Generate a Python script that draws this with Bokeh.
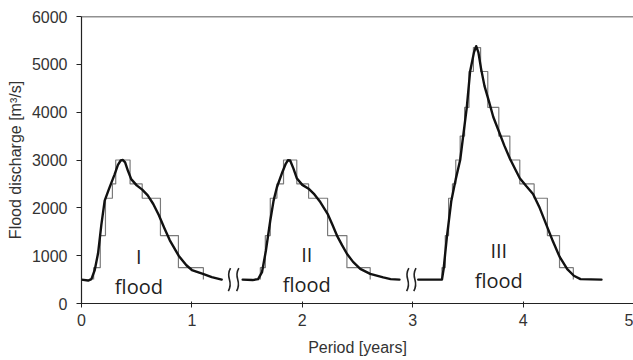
from bokeh.plotting import figure
from bokeh.models import Range1d, Span, FixedTicker, ColumnDataSource
from bokeh.core.properties import value
from bokeh.embed import file_html
from bokeh.resources import INLINE

# ---- data ----
# smooth flood hydrographs (years, m3/s)
c1_x = [0.0, 0.06, 0.09, 0.12, 0.15, 0.18, 0.21, 0.25, 0.30, 0.33, 0.355, 0.375, 0.395, 0.42,
        0.45, 0.50, 0.55, 0.60, 0.65, 0.70, 0.75, 0.80, 0.88, 0.95, 1.0, 1.1, 1.18, 1.27]
c1_y = [500, 480, 510, 700, 1050, 1650, 2150, 2400, 2700, 2900, 2990, 3000, 2950, 2780,
        2600, 2470, 2380, 2260, 2080, 1850, 1580, 1320, 1000, 800, 700, 620, 550, 500]

c2_x = [1.46, 1.55, 1.60, 1.635, 1.67, 1.71, 1.74, 1.77, 1.82, 1.85, 1.87, 1.89, 1.92, 1.95,
        2.0, 2.057, 2.11, 2.163, 2.229, 2.27, 2.314, 2.36, 2.404, 2.46, 2.525, 2.615, 2.733,
        2.80, 2.88]
c2_y = [500, 490, 510, 655, 1100, 1735, 2150, 2430, 2750, 2920, 2995, 2990, 2820, 2620,
        2480, 2400, 2280, 2120, 1875, 1660, 1420, 1220, 1040, 870, 725, 620, 545,
        510, 500]

c3_x = [3.05, 3.265, 3.28, 3.31, 3.35, 3.39, 3.43, 3.46, 3.49, 3.52, 3.555, 3.575, 3.595,
        3.62, 3.65, 3.69, 3.73, 3.78, 3.83, 3.88, 3.93, 3.97, 4.03, 4.09, 4.15, 4.21, 4.27,
        4.33, 4.40, 4.46, 4.52, 4.71]
c3_y = [500, 500, 720, 1400, 2150, 2600, 3000, 3550, 4100, 4850, 5250, 5380, 5250,
        4900, 4550, 4230, 3900, 3600, 3300, 3030, 2800, 2620, 2450, 2290, 2000, 1650, 1300,
        980, 720, 580, 510, 500]

# stepped (discretised) flows: edges and step values
s1_edges = [0.11, 0.17, 0.217, 0.28, 0.31, 0.44, 0.55, 0.715, 0.878, 1.104]
s1_vals = [750, 1420, 2200, 2500, 3000, 2500, 2200, 1420, 750]

s2_edges = [1.62, 1.665, 1.71, 1.77, 1.83, 1.95, 2.057, 2.229, 2.404, 2.615]
s2_vals = [750, 1420, 2200, 2500, 3000, 2500, 2200, 1420, 750]

s3_edges = [3.265, 3.295, 3.325, 3.36, 3.39, 3.43, 3.47, 3.51, 3.55, 3.615, 3.68, 3.78,
            3.88, 3.97, 4.10, 4.22, 4.33, 4.455]
s3_vals = [750, 1420, 2200, 2500, 3000, 3500, 4100, 4850, 5350, 4850, 4100, 3500, 3000,
           2500, 2200, 1420, 750]
base_flow = 500

# axis break markers (years) and labels
break_x = [1.34, 1.415, 2.955, 3.02]
labels_num = ["I", "II", "III"]
labels_x = [0.52, 2.04, 3.78]
labels_num_y = [980, 1020, 1100]
labels_word_y = [360, 400, 480]

x_ticks = [0, 1, 2, 3, 4, 5]
y_ticks = [0, 1000, 2000, 3000, 4000, 5000, 6000]

# ---- figure ----
p = figure(width=633, height=358, output_backend="svg", toolbar_location=None,
           x_range=Range1d(0, 5), y_range=Range1d(0, 6000),
           min_border_left=81, min_border_right=0, min_border_top=16, min_border_bottom=55)
p.outline_line_color = None
p.grid.visible = False
p.background_fill_color = "white"

FONT = "Liberation Sans"
for ax in (p.xaxis[0], p.yaxis[0]):
    ax.axis_line_color = "#222222"
    ax.axis_line_width = 1.2
    ax.major_tick_line_color = "#222222"
    ax.minor_tick_line_color = None
    ax.major_label_text_font = FONT
    ax.major_label_text_font_size = "16px"
    ax.major_label_text_color = "#333333"
    ax.axis_label_text_font = FONT
    ax.axis_label_text_font_size = "16px"
    ax.axis_label_text_font_style = "normal"
    ax.axis_label_text_color = "#333333"

p.xaxis.ticker = FixedTicker(ticks=x_ticks)
p.yaxis.ticker = FixedTicker(ticks=y_ticks)
p.xaxis.axis_label = "Period [years]"
p.yaxis.axis_label = "Flood discharge [m³/s]"
p.xaxis.major_tick_in = 2
p.xaxis.major_tick_out = 4
p.yaxis.major_tick_in = 0
p.yaxis.major_tick_out = 5
p.xaxis.major_label_standoff = 6
p.yaxis.major_label_standoff = 9
p.xaxis.axis_label_standoff = 10
p.yaxis.axis_label_standoff = 5

p.add_layout(Span(location=6000, dimension="width", line_color="#222222", line_width=1.5))

# stepped series (gray)
for edges, vals in ((s1_edges, s1_vals), (s2_edges, s2_vals), (s3_edges, s3_vals)):
    xs = [edges[0]] + edges
    ys = [base_flow] + vals + [base_flow]
    p.step(x=xs, y=ys, mode="after", line_color="#7a7a7a", line_width=1.2)

# smooth hydrographs (black)
for cx, cy in ((c1_x, c1_y), (c2_x, c2_y), (c3_x, c3_y)):
    p.line(cx, cy, line_color="#111111", line_width=2.4, line_join="round", line_cap="round")

# break markers: small S-shaped squiggles
dx = 0.02
dy = 240
for bx in break_x:
    p.bezier(x0=[bx + dx * 0.5], y0=[base_flow + dy], x1=[bx - dx * 0.5], y1=[base_flow - dy],
             cx0=[bx - dx * 2.2], cy0=[base_flow + dy * 0.1],
             cx1=[bx + dx * 2.2], cy1=[base_flow - dy * 0.1],
             line_color="#222222", line_width=1.6)

# flood labels
src = ColumnDataSource(dict(x=labels_x, yn=labels_num_y, yw=labels_word_y,
                            n=labels_num, w=["flood"] * 3))
p.text(x="x", y="yn", text="n", source=src, text_font=value("Open Sans"),
       text_font_size="20px", text_align="center", text_baseline="middle", text_color="#222222")
p.text(x="x", y="yw", text="w", source=src, text_font=value("Open Sans"),
       text_font_size="20px", text_align="center", text_baseline="middle", text_color="#222222")

open("out.html", "w").write(file_html(p, INLINE))
